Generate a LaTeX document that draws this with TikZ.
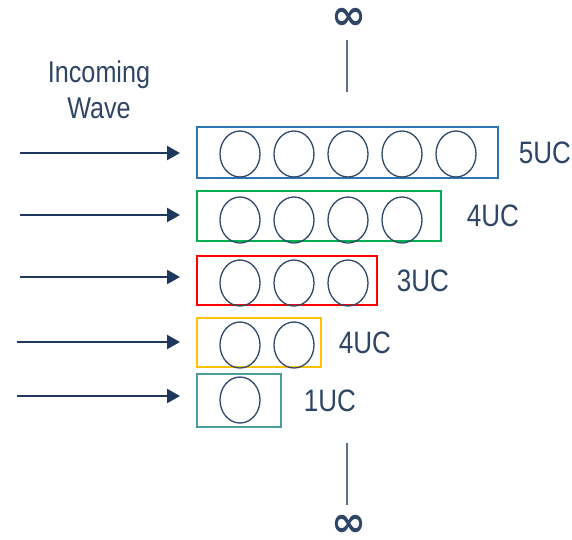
\documentclass[tikz,border=0pt]{standalone}
\usepackage{fontspec}
\setmainfont{Liberation Sans}[FakeStretch=0.84]
\newfontfamily\infsym{DejaVu Sans}
\usetikzlibrary{shapes.geometric,arrows.meta,positioning}
\definecolor{textnavy}{RGB}{46,69,102}
\definecolor{arrownavy}{RGB}{31,56,94}
\definecolor{cellnavy}{RGB}{47,72,108}
\definecolor{linegray}{RGB}{92,112,138}
\definecolor{boxblue}{RGB}{46,117,182}
\definecolor{boxgreen}{RGB}{0,176,80}
\definecolor{boxred}{RGB}{255,0,0}
\definecolor{boxyellow}{RGB}{255,192,0}
\definecolor{boxteal}{RGB}{74,158,158}

\begin{document}
\begin{tikzpicture}
[x=1pt,y=-1pt,
  cellbox/.style={draw,line width=1.6pt,inner sep=0pt,anchor=west},%
  cellHollow/.style={shape=ellipse,draw=cellnavy,line width=1.3pt,minimum width=40pt,minimum height=46pt,inner sep=0pt},%
  waveArrow/.style={-{Triangle[length=13pt,width=14pt]},line width=2.4pt,draw=arrownavy,shorten >=16pt},%
  ucLabel/.style={text=textnavy,inner sep=0pt,anchor=west,font=\fontsize{31}{36}\selectfont},%
  infMark/.style={text=textnavy,inner sep=0pt,font=\infsym\bfseries\fontsize{42}{42}\selectfont},%
  infLine/.style={draw=linegray,line width=1.2pt}]
\useasboundingbox (0,0) rectangle (572,539);
%% boxes of unit cells
\foreach \boxname/\y/\w/\h/\col in {5/152.5/301/51/boxblue, 4/216/244/50/boxgreen,
  3/280.5/180/49/boxred, 2/342.5/124/49/boxyellow, 1/400.5/84/53/boxteal}
{
  \node (b\boxname) at (196,\y) [cellbox,draw=\col,minimum width=\w pt,minimum height=\h pt] {};
}
%% cells
\foreach \rowname/\y in {5/154, 4/220, 3/283, 2/345, 1/400}
{
  \foreach \k in {1,...,\rowname}
    \node (c\rowname-\k) at ({186+54*\k},\y) [cellHollow] {};
}
%% labels
\node (l5) [ucLabel,right=20pt of b5] {5UC};
\node (l4) [ucLabel,right=25pt of b4] {4UC};
\node (l3) [ucLabel,right=19pt of b3] {3UC};
\node (l2) [ucLabel,right=17pt of b2] {4UC};
\node (l1) [ucLabel,right=22pt of b1] {1UC};
\node (wave) at (99,90) [text=textnavy,align=center,font=\fontsize{30}{36}\selectfont] {Incoming\\Wave};
%% infinity marks
\node (infTop) at (349,19) [infMark] {∞};
\node (infBot) at (349,526) [infMark] {∞};
\coordinate (topA) at (347,40);
\coordinate (topB) at (347,92);
\coordinate (botA) at (347,443);
\coordinate (botB) at (347,505);
\draw[infLine] (topA) -- (topB);
\draw[infLine] (botA) -- (botB);
%% incoming arrows
\foreach \rowname/\x/\y in {5/20/153, 4/20/215, 3/20/277, 2/17/342, 1/17/396}
{
  \coordinate (w\rowname) at (\x,\y);
  \draw[waveArrow] (w\rowname) -- (w\rowname -| b\rowname.west);
}
\end{tikzpicture}
\end{document}
